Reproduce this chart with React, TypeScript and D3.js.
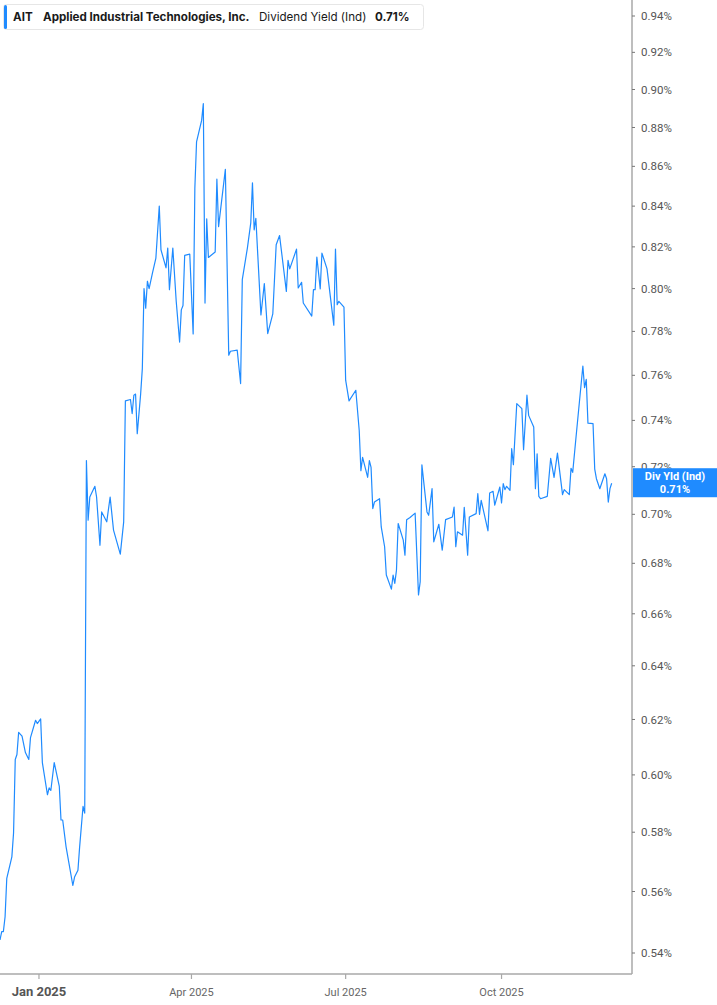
import * as React from 'react'
import * as d3 from 'd3'

// dividend yield (ind), %
const dates = [
  '2024-12-09', '2024-12-10', '2024-12-11', '2024-12-12', '2024-12-13', '2024-12-16', '2024-12-17', '2024-12-18', '2024-12-19', '2024-12-20',
  '2024-12-22', '2024-12-24', '2024-12-26', '2024-12-27', '2024-12-30', '2024-12-31', '2025-01-02', '2025-01-03', '2025-01-06', '2025-01-07',
  '2025-01-08', '2025-01-10', '2025-01-13', '2025-01-14', '2025-01-15', '2025-01-17', '2025-01-21', '2025-01-22', '2025-01-24', '2025-01-25',
  '2025-01-27', '2025-01-28', '2025-01-29', '2025-01-30', '2025-01-31', '2025-02-03', '2025-02-04', '2025-02-06', '2025-02-07', '2025-02-10',
  '2025-02-12', '2025-02-14', '2025-02-18', '2025-02-20', '2025-02-21', '2025-02-24', '2025-02-25', '2025-02-26', '2025-02-27', '2025-02-28',
  '2025-03-02', '2025-03-03', '2025-03-04', '2025-03-05', '2025-03-06', '2025-03-07', '2025-03-09', '2025-03-11', '2025-03-13', '2025-03-14',
  '2025-03-17', '2025-03-18', '2025-03-19', '2025-03-21', '2025-03-23', '2025-03-25', '2025-03-26', '2025-03-27', '2025-03-28', '2025-03-31',
  '2025-04-02', '2025-04-03', '2025-04-04', '2025-04-07', '2025-04-08', '2025-04-09', '2025-04-10', '2025-04-11', '2025-04-15', '2025-04-16',
  '2025-04-17', '2025-04-21', '2025-04-23', '2025-04-24', '2025-04-28', '2025-04-30', '2025-05-01', '2025-05-04', '2025-05-06', '2025-05-07',
  '2025-05-08', '2025-05-09', '2025-05-12', '2025-05-14', '2025-05-16', '2025-05-19', '2025-05-21', '2025-05-23', '2025-05-27', '2025-05-28',
  '2025-05-29', '2025-06-02', '2025-06-03', '2025-06-05', '2025-06-06', '2025-06-11', '2025-06-12', '2025-06-13', '2025-06-14', '2025-06-16',
  '2025-06-17', '2025-06-20', '2025-06-24', '2025-06-25', '2025-06-26', '2025-06-27', '2025-06-30', '2025-07-01', '2025-07-03', '2025-07-07',
  '2025-07-09', '2025-07-10', '2025-07-11', '2025-07-14', '2025-07-15', '2025-07-16', '2025-07-17', '2025-07-18', '2025-07-21', '2025-07-22',
  '2025-07-24', '2025-07-25', '2025-07-28', '2025-07-29', '2025-07-30', '2025-07-31', '2025-08-01', '2025-08-04', '2025-08-05', '2025-08-06',
  '2025-08-08', '2025-08-11', '2025-08-13', '2025-08-14', '2025-08-15', '2025-08-18', '2025-08-19', '2025-08-21', '2025-08-22', '2025-08-25',
  '2025-08-27', '2025-08-29', '2025-09-02', '2025-09-03', '2025-09-04', '2025-09-05', '2025-09-08', '2025-09-09', '2025-09-11', '2025-09-12',
  '2025-09-16', '2025-09-17', '2025-09-18', '2025-09-19', '2025-09-23', '2025-09-24', '2025-09-26', '2025-09-27', '2025-09-30', '2025-10-01',
  '2025-10-02', '2025-10-03', '2025-10-04', '2025-10-06', '2025-10-07', '2025-10-08', '2025-10-10', '2025-10-13', '2025-10-14', '2025-10-16',
  '2025-10-17', '2025-10-20', '2025-10-21', '2025-10-22', '2025-10-23', '2025-10-24', '2025-10-28', '2025-10-30', '2025-11-01', '2025-11-03',
  '2025-11-06', '2025-11-07', '2025-11-10', '2025-11-11', '2025-11-12', '2025-11-14', '2025-11-18', '2025-11-19', '2025-11-20', '2025-11-21',
  '2025-11-24', '2025-11-25', '2025-11-26', '2025-11-28', '2025-12-01', '2025-12-02', '2025-12-03', '2025-12-04', '2025-12-05',
]

const yields = [
  0.5442, 0.5469, 0.5469, 0.5517, 0.5644, 0.5716, 0.5797, 0.6055, 0.6073, 0.6153,
  0.6139, 0.6080, 0.6055, 0.6134, 0.6197, 0.6185, 0.6202, 0.6044, 0.5930, 0.5954,
  0.5945, 0.6044, 0.5959, 0.5842, 0.5842, 0.5750, 0.5620, 0.5648, 0.5671, 0.5750,
  0.5889, 0.5866, 0.7226, 0.6976, 0.7072, 0.7117, 0.7072, 0.6873, 0.7010, 0.6969,
  0.7072, 0.6935, 0.6837, 0.6969, 0.7486, 0.7492, 0.7430, 0.7511, 0.7516, 0.7342,
  0.7516, 0.7630, 0.8000, 0.7908, 0.8035, 0.8000, 0.8075, 0.8146, 0.8400, 0.8186,
  0.8099, 0.8194, 0.7995, 0.8194, 0.7940, 0.7751, 0.7900, 0.7920, 0.8159, 0.8165,
  0.7788, 0.8489, 0.8725, 0.8837, 0.8925, 0.7932, 0.8337, 0.8149, 0.8175, 0.8535,
  0.8299, 0.8585, 0.7691, 0.7709, 0.7714, 0.7563, 0.8043, 0.8194, 0.8317, 0.8517,
  0.8283, 0.8340, 0.7876, 0.8024, 0.7790, 0.7881, 0.8210, 0.8255, 0.7987, 0.8135,
  0.8094, 0.8189, 0.8003, 0.8030, 0.7932, 0.7871, 0.7995, 0.7995, 0.8151, 0.7999,
  0.8170, 0.8094, 0.7829, 0.8189, 0.7924, 0.7940, 0.7913, 0.7578, 0.7486, 0.7533,
  0.7357, 0.7183, 0.7240, 0.7155, 0.7226, 0.7197, 0.7024, 0.7051, 0.7065, 0.6948,
  0.6867, 0.6753, 0.6697, 0.6753, 0.6720, 0.6773, 0.6962, 0.6894, 0.6833, 0.6978,
  0.6987, 0.7005, 0.6674, 0.6727, 0.7208, 0.7010, 0.6996, 0.7107, 0.6887, 0.6959,
  0.6853, 0.6978, 0.6989, 0.7030, 0.6867, 0.6928, 0.6914, 0.7029, 0.6833, 0.6989,
  0.7003, 0.7086, 0.7000, 0.7058, 0.6932, 0.7089, 0.7096, 0.7038, 0.7114, 0.7047,
  0.7128, 0.7103, 0.7117, 0.7100, 0.7277, 0.7209, 0.7474, 0.7452, 0.7273, 0.7511,
  0.7422, 0.7371, 0.7107, 0.7255, 0.7075, 0.7065, 0.7075, 0.7236, 0.7155, 0.7258,
  0.7082, 0.7103, 0.7082, 0.7193, 0.7176, 0.7330, 0.7642, 0.7545, 0.7582, 0.7388,
  0.7386, 0.7190, 0.7149, 0.7107, 0.7170, 0.7149, 0.7051, 0.7107, 0.7130,
]

const yTicks = [0.54, 0.56, 0.58, 0.60, 0.62, 0.64, 0.66, 0.68, 0.70, 0.72, 0.74, 0.76, 0.78, 0.80, 0.82, 0.84, 0.86, 0.88, 0.90, 0.92, 0.94]
const xTickDates = ['2025-01-01', '2025-04-01', '2025-07-01', '2025-10-01']
const xTickLabels = ['Jan 2025', 'Apr 2025', 'Jul 2025', 'Oct 2025']

const ticker = 'AIT'
const company = 'Applied Industrial Technologies, Inc.'
const metric = 'Dividend Yield (Ind)'
const lastLabel = 'Div Yld (Ind)'

const WIDTH = 717
const HEIGHT = 1005
const PLOT_RIGHT = 632
const PLOT_BOTTOM = 974
const BLUE = '#1f8bff'

const parseDate = d3.utcParse('%Y-%m-%d')

export default function App() {
  const points = dates.map((d, i) => [parseDate(d)!, yields[i]] as [Date, number])

  const x = d3.scaleUtc()
    .domain([parseDate('2024-12-09')!, parseDate('2025-12-17')!])
    .range([0, PLOT_RIGHT])

  const y = d3.scaleLog()
    .domain([0.54, 0.94])
    .range([953, 16])

  const line = d3.line<[Date, number]>()
    .x(d => x(d[0]))
    .y(d => y(d[1]))

  const last = points[points.length - 1]
  const lastY = y(last[1])
  const fmt = (v: number) => `${v.toFixed(2)}%`

  return (
    <svg
      width={WIDTH}
      height={HEIGHT}
      style={{ position: 'absolute', left: 0, top: 0, background: '#fff' }}
    >
      <defs>
        <clipPath id="plot">
          <rect x={0} y={0} width={PLOT_RIGHT} height={PLOT_BOTTOM} />
        </clipPath>
      </defs>

      {/* series */}
      <path
        d={line(points) ?? ''}
        fill="none"
        stroke={BLUE}
        strokeWidth={1.2}
        strokeLinejoin="round"
        clipPath="url(#plot)"
      />

      {/* axes */}
      <line x1={PLOT_RIGHT} x2={PLOT_RIGHT} y1={0} y2={PLOT_BOTTOM} stroke="#a8a8a8" strokeWidth={1.5} />
      <line x1={0} x2={PLOT_RIGHT} y1={PLOT_BOTTOM} y2={PLOT_BOTTOM} stroke="#a8a8a8" strokeWidth={1.5} />

      {yTicks.map(t => (
        <g key={t} transform={`translate(${PLOT_RIGHT}, ${y(t)})`}>
          <line x1={0} x2={3} stroke="#777" strokeWidth={1} />
          <text
            x={9}
            dy="0.35em"
            fontFamily="Roboto, 'Liberation Sans', sans-serif"
            fontSize={11.5}
            fill="#555"
          >
            {fmt(t)}
          </text>
        </g>
      ))}

      {xTickDates.map((d, i) => {
        const px = x(parseDate(d)!)
        return (
          <g key={d} transform={`translate(${px}, ${PLOT_BOTTOM})`}>
            <line y1={0} y2={5} stroke="#a8a8a8" strokeWidth={1.2} />
            <text
              y={22}
              textAnchor="middle"
              fontFamily="Roboto, 'Liberation Sans', sans-serif"
              fontSize={i === 0 ? 13 : 11}
              fontWeight={i === 0 ? 700 : 400}
              fill={i === 0 ? '#555' : '#666'}
            >
              {xTickLabels[i]}
            </text>
          </g>
        )
      })}

      {/* last value marker */}
      <rect x={PLOT_RIGHT + 1} y={lastY - 15} width={WIDTH - PLOT_RIGHT - 1} height={29} fill={BLUE} />
      <text
        x={675}
        y={lastY - 3}
        textAnchor="middle"
        fontFamily="Roboto, 'Liberation Sans', sans-serif"
        fontSize={11}
        fontWeight={700}
        fill="#fff"
      >
        {lastLabel}
      </text>
      <text
        x={675}
        y={lastY + 10}
        textAnchor="middle"
        fontFamily="Roboto, 'Liberation Sans', sans-serif"
        fontSize={11}
        fontWeight={700}
        fill="#fff"
      >
        {fmt(last[1])}
      </text>

      {/* header */}
      <rect x={3.5} y={4.5} width={420} height={25} rx={3} fill="#fff" stroke="#e6e6e6" />
      <rect x={4} y={5} width={3} height={24} rx={1.5} fill={BLUE} />
      <g fontFamily="Inter, 'Open Sans', sans-serif" fontSize={11.6} fill="#1a1a1a">
        <text x={13} y={21} fontWeight={700}>{ticker}</text>
        <text x={43} y={21} fontWeight={700}>{company}</text>
        <text x={259} y={21} fontWeight={400}>{metric}</text>
        <text x={375} y={21} fontWeight={700}>{fmt(last[1])}</text>
      </g>
    </svg>
  )
}
